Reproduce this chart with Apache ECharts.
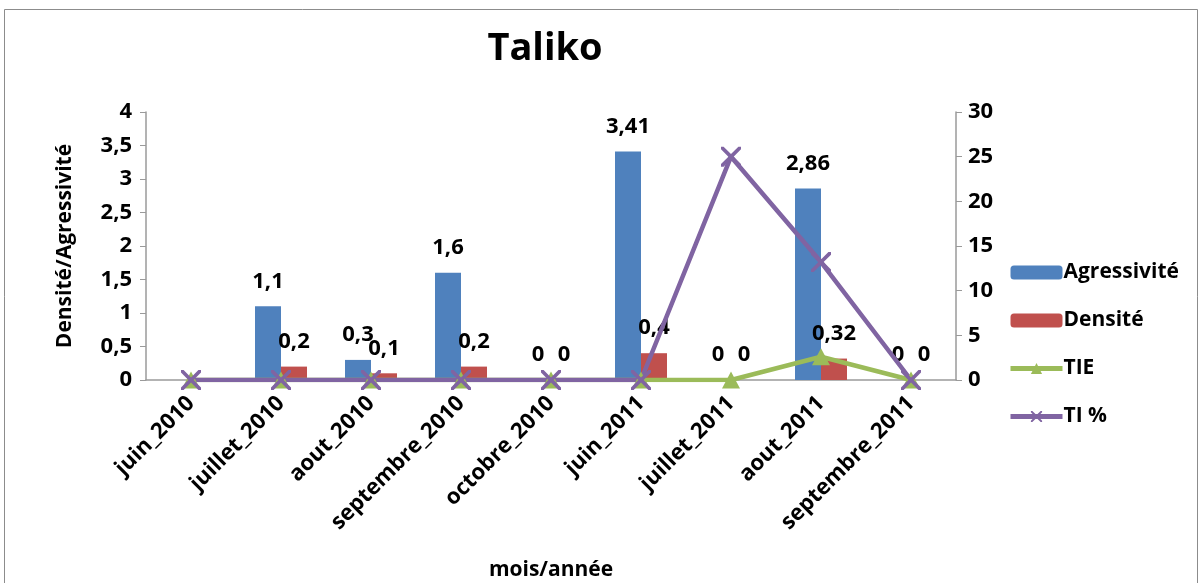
<!DOCTYPE html>
<html>
<head>
<meta charset="utf-8">
<script src="https://cdn.jsdelivr.net/npm/echarts@6/dist/echarts.min.js"></script>
<style>
  html, body { margin: 0; padding: 0; background: #ffffff; }
  #chart { width: 1204px; height: 583px; }
</style>
</head>
<body>
<div id="chart"></div>
<script>
// Monthly catch indicators, Taliko (no bar recorded for juin_2010)
const categories = ['juin_2010', 'juillet_2010', 'aout_2010', 'septembre_2010', 'octobre_2010',
                    'juin_2011', 'juillet_2011', 'aout_2011', 'septembre_2011'];
const agressivite = [null, 1.1, 0.3, 1.6, 0, 3.41, 0, 2.86, 0];
const densite     = [null, 0.2, 0.1, 0.2, 0, 0.4, 0, 0.32, 0];
const tie         = [0, 0, 0, 0, 0, 0, 0, 2.6, 0];
const tiPct       = [0, 0, 0, 0, 0, 0, 25, 13.2, 0];
const leftTicks   = [0, 0.5, 1, 1.5, 2, 2.5, 3, 3.5, 4];
const rightTicks  = [0, 5, 10, 15, 20, 25, 30];

const FONT = '"Open Sans", Lato, sans-serif';
const comma = v => String(v).replace('.', ',');
const crossPath = 'path://M0,0L2.6,0L10,7.4L17.4,0L20,0L20,2.6L12.6,10L20,17.4L20,20L17.4,20L10,12.6L2.6,20L0,20L0,17.4L7.4,10L0,2.6Z';

const chart = echarts.init(document.getElementById('chart'));

const barLabel = {
  show: true,
  position: 'top',
  distance: 14,
  color: '#000',
  fontFamily: FONT,
  fontWeight: 'bold',
  fontSize: 22,
  formatter: p => comma(p.value)
};

chart.setOption({
  backgroundColor: '#ffffff',
  animation: false,
  graphic: [
    {
      type: 'rect',
      shape: { x: 4.5, y: 9.5, width: 1193, height: 600 },
      style: { fill: 'none', stroke: '#8c8c8c', lineWidth: 1 },
      silent: true
    },
    {
      type: 'text',
      x: 545, y: 49,
      style: {
        text: 'Taliko', fill: '#000', font: 'bold 38px ' + FONT,
        textAlign: 'center', textVerticalAlign: 'middle'
      }
    }
  ],
  grid: { left: 146, right: 248, top: 112, bottom: 203, containLabel: false, outerBoundsMode: 'none' },
  legend: {
    orient: 'vertical',
    left: 1003,
    top: 255,
    itemWidth: 52,
    itemHeight: 14,
    itemGap: 23,
    textStyle: { color: '#000', fontFamily: FONT, fontWeight: 'bold', fontSize: 21, lineHeight: 25, padding: [0, 0, 0, -4] },
    data: [
      'Agressivité',
      'Densité',
      { name: 'TIE', lineStyle: { width: 5 } },
      { name: 'TI %', lineStyle: { width: 5 } }
    ]
  },
  xAxis: {
    type: 'category',
    data: categories,
    name: 'mois/année',
    nameLocation: 'middle',
    nameGap: 180,
    nameTextStyle: { color: '#000', fontFamily: FONT, fontWeight: 'bold', fontSize: 21 },
    axisLine: { lineStyle: { color: '#9a9a9a', width: 1.5 } },
    axisTick: { show: false },
    axisLabel: {
      rotate: 45,
      margin: 20,
      color: '#000',
      fontFamily: FONT,
      fontWeight: 'bold',
      fontSize: 22,
      interval: 0
    },
    splitLine: { show: false }
  },
  yAxis: [
    {
      type: 'value',
      min: leftTicks[0],
      max: leftTicks[leftTicks.length - 1],
      interval: 0.5,
      name: 'Densité/Agressivité',
      nameLocation: 'middle',
      nameGap: 70,
      nameRotate: 90,
      nameTextStyle: { color: '#000', fontFamily: FONT, fontWeight: 'bold', fontSize: 21 },
      axisLine: { show: true, lineStyle: { color: '#9a9a9a', width: 1.5 } },
      axisTick: { show: true, length: 6, lineStyle: { color: '#9a9a9a' } },
      axisLabel: {
        margin: 14, color: '#000', fontFamily: FONT, fontWeight: 'bold', fontSize: 22,
        formatter: v => comma(v)
      },
      splitLine: { show: false }
    },
    {
      type: 'value',
      min: rightTicks[0],
      max: rightTicks[rightTicks.length - 1],
      interval: 5,
      position: 'right',
      axisLine: { show: true, lineStyle: { color: '#9a9a9a', width: 1.5 } },
      axisTick: { show: true, length: 6, lineStyle: { color: '#9a9a9a' } },
      axisLabel: { margin: 12, color: '#000', fontFamily: FONT, fontWeight: 'bold', fontSize: 22 },
      splitLine: { show: false }
    }
  ],
  series: [
    {
      name: 'Agressivité',
      type: 'bar',
      yAxisIndex: 0,
      data: agressivite,
      barWidth: 26,
      barGap: '0%',
      itemStyle: { color: '#4F81BD' },
      label: barLabel
    },
    {
      name: 'Densité',
      type: 'bar',
      yAxisIndex: 0,
      data: densite,
      barWidth: 26,
      barGap: '0%',
      itemStyle: { color: '#C0504D' },
      label: barLabel
    },
    {
      name: 'TIE',
      type: 'line',
      yAxisIndex: 1,
      data: tie,
      symbol: 'triangle',
      symbolSize: [18, 17],
      showAllSymbol: true,
      lineStyle: { color: '#9BBB59', width: 4.5 },
      itemStyle: { color: '#9BBB59' }
    },
    {
      name: 'TI %',
      type: 'line',
      yAxisIndex: 1,
      data: tiPct,
      symbol: crossPath,
      symbolSize: 20,
      showAllSymbol: true,
      lineStyle: { color: '#8064A2', width: 4.5 },
      itemStyle: { color: '#8064A2' }
    }
  ]
});
</script>
</body>
</html>
